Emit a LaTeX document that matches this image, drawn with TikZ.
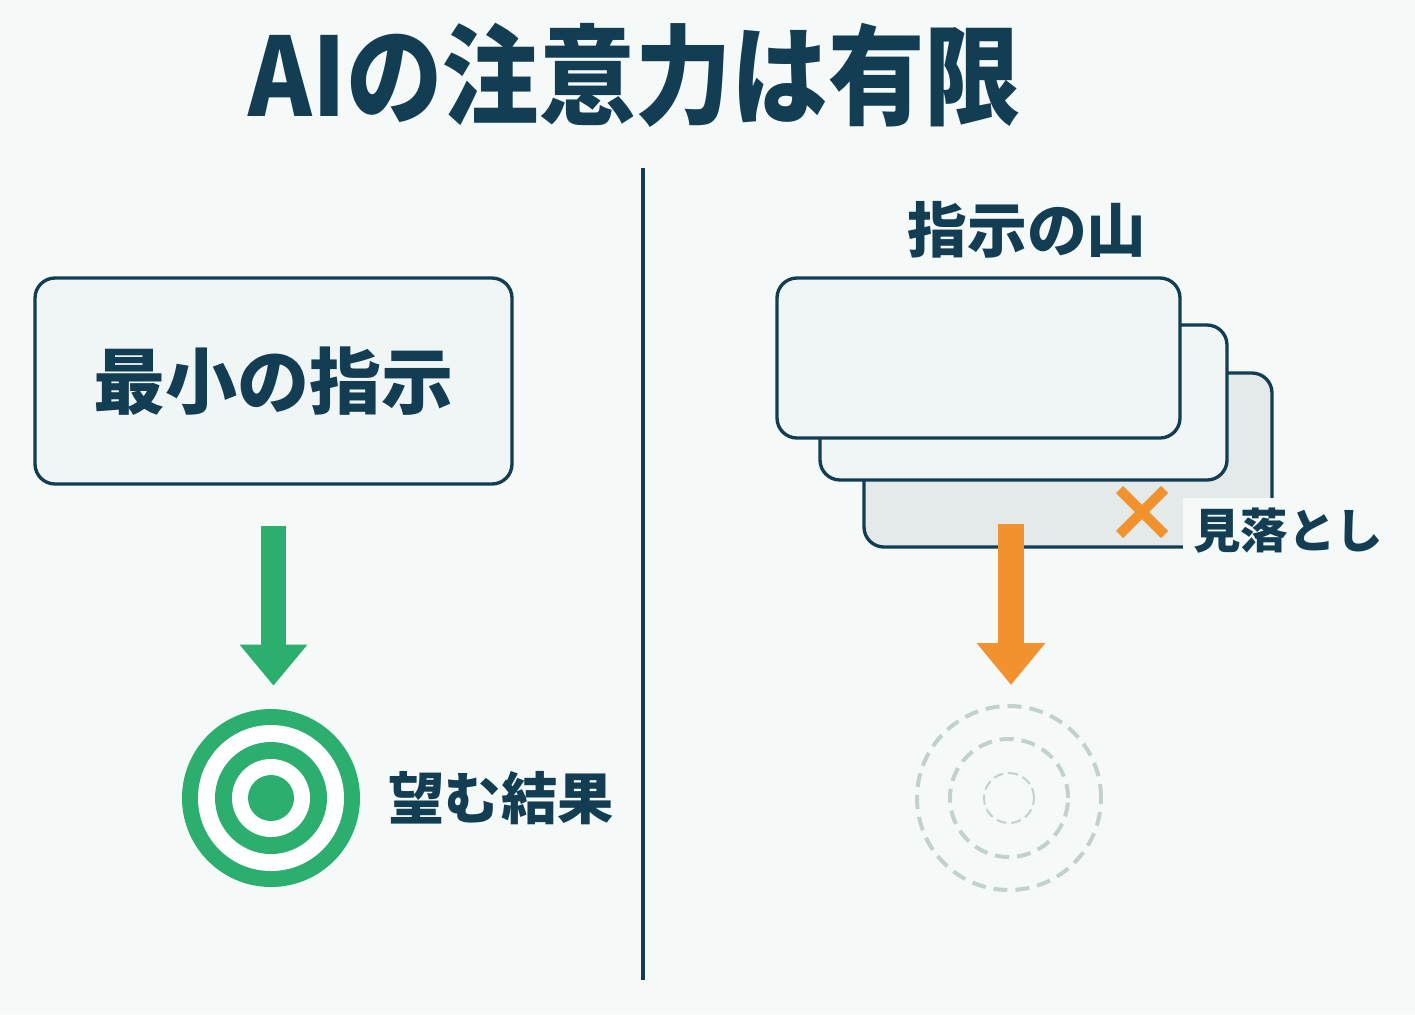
\documentclass[tikz,border=0pt]{standalone}
\usepackage{fontspec}
\setmainfont{Noto Sans CJK JP}
\usepackage{tikz}
\usetikzlibrary{positioning, arrows.meta, calc}
\definecolor{ink}{HTML}{123D52}
\definecolor{green}{HTML}{2BAE6E}
\definecolor{orange}{HTML}{F2922F}
\definecolor{bg}{HTML}{F5FAF9}
\definecolor{paper}{HTML}{EFF6F5}
\definecolor{mist}{HTML}{E4E9E9}
\definecolor{haze}{HTML}{C3D1CE}

\begin{document}
\begin{tikzpicture}[
  card/.style={rectangle, rounded corners=0.4cm, draw=ink, line width=1.9pt,
               fill=paper, inner sep=0pt},
  jp/.style={text=ink, inner sep=0pt, font=\bfseries\fontsize{#1}{#1}\selectfont},
  garr/.style={-{Triangle[width=1.3cm, length=0.82cm]}, line width=0.5cm, green},
  oarr/.style={-{Triangle[width=1.32cm, length=0.84cm]}, line width=0.52cm, orange},
  xmark/.style={orange, line width=0.2cm},
  ripple/.style={haze, line width=0.08cm, dash pattern=on 0.28cm off 0.16cm},
]
\useasboundingbox (0,0) rectangle (28.3,-20.28);
\fill[bg] (0,0) rectangle (28.3,-20.28);

%% Title
\node[jp=62, xscale=0.885, transform shape] (title) at (12.7,-1.5) {AIの注意力は有限};

%% Divider
\coordinate (divtop) at (12.86,-3.36);
\coordinate (divbot) at (12.86,-19.6);
\draw[ink, line width=1.8pt] (divtop) -- (divbot);

%% Left — minimal instruction
\node[card, minimum width=9.54cm, minimum height=4.12cm,
      font=\bfseries\fontsize{41}{41}\selectfont, text=ink] (minbox) at (5.47,-7.62) {最小の指示};

\node[circle, fill=green, minimum size=3.56cm, inner sep=0pt] (goal) at (5.42,-15.96) {};
\fill[white] (goal) circle (1.46);
\fill[green] (goal) circle (1.12);
\fill[white] (goal) circle (0.78);
\fill[green] (goal) circle (0.46);
\node[jp=32, right=0.56cm of goal] (goaltext) {望む結果};

\draw[garr, shorten >=0.46cm] ([yshift=-0.8cm]minbox.south) -- (minbox.south |- goal.north);

%% Right — pile of instructions
\node[jp=34] (piletitle) at (20.54,-4.6) {指示の山};

\node[card, fill=mist, minimum width=8.16cm, minimum height=3.48cm] (pile3) at (21.36,-9.2) {};
\node[card, minimum width=8.14cm, minimum height=3.1cm] (pile2) at (20.47,-8.05) {};
\node[card, minimum width=8.06cm, minimum height=3.2cm] (pile1) at (19.57,-7.16) {};

\node[jp=27, fill=bg, inner sep=0.2cm] (misslabel) at (25.76,-10.62) {見落とし};

\coordinate (cross) at (22.84,-10.24);
\draw[xmark] ([shift={(-0.45,-0.45)}]cross) -- ([shift={(0.45,0.45)}]cross);
\draw[xmark] ([shift={(-0.45,0.45)}]cross) -- ([shift={(0.45,-0.45)}]cross);

\node[circle, ripple, draw, minimum size=3.68cm, inner sep=0pt] (blur) at (20.18,-15.96) {};
\draw[ripple] (blur) circle (1.18);
\draw[haze, line width=0.04cm, dash pattern=on 0.2cm off 0.1cm] (blur) circle (0.5);

\coordinate (ostart) at (20.22,-10.48);
\draw[oarr, shorten >=0.38cm] (ostart) -- (ostart |- blur.north);

\end{tikzpicture}
\end{document}
